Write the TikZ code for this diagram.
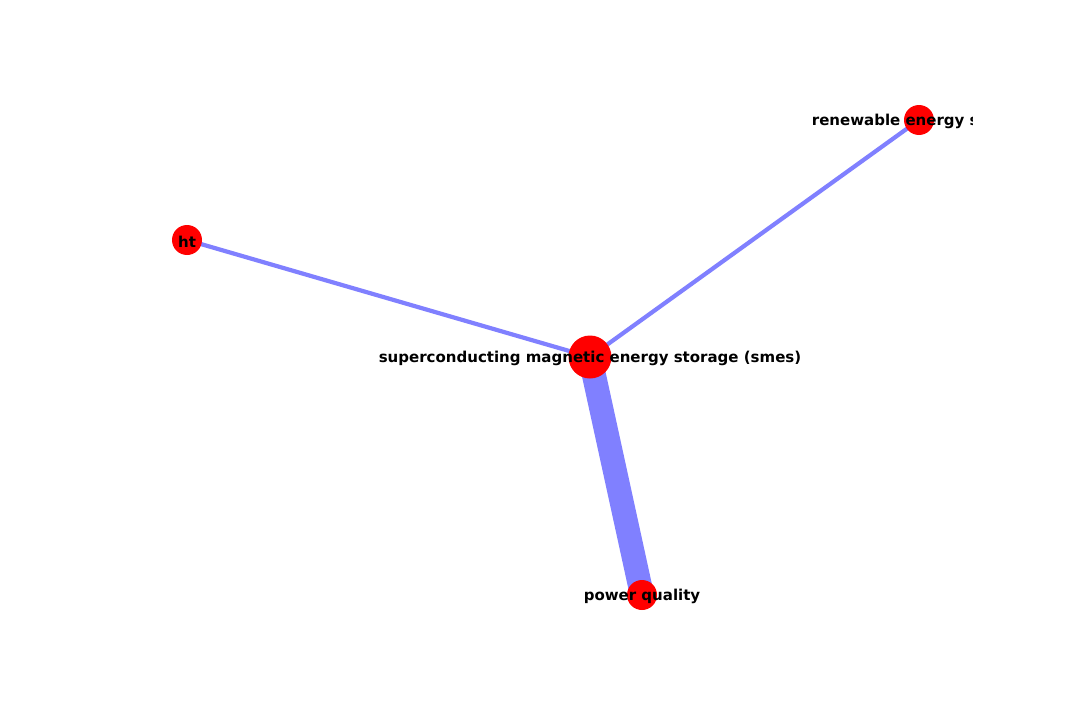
\documentclass[tikz,border=0pt]{standalone}
\usepackage{fontspec}
\setmainfont{DejaVu Sans}
\usetikzlibrary{backgrounds}
\begin{document}
\begin{tikzpicture}[x=1pt,y=-1pt,
  vert/.style={circle,fill=red,inner sep=0pt,minimum size=#1},
  edge/.style={draw=edgeblue,line width=#1},
  lbl/.style={font=\fontsize{15}{18}\selectfont\bfseries,inner sep=0pt,anchor=center}]
\definecolor{edgeblue}{RGB}{128,128,255}
\useasboundingbox (0,0) rectangle (1080,720);
\node[vert=43pt] (smes) at (590,357) {};
\node[vert=30pt] (ht) at (187,240) {};
\node[vert=30pt] (ren) at (919,120) {};
\node[vert=30pt] (pq) at (642,595) {};
\begin{pgfonlayer}{background}
\fill[white] (0,0) rectangle (1080,720);
\draw[edge=4.2pt] (smes.center) -- (ht.center);
\draw[edge=4.2pt] (smes.center) -- (ren.center);
\draw[edge=24pt] (smes.center) -- (pq.center);
\end{pgfonlayer}
\begin{scope}
\clip (108,86) rectangle (972,634);
\node[lbl] at ([yshift=-1.5pt]smes.center) {superconducting magnetic energy storage (smes)};
\node[lbl] at ([yshift=-1.5pt]ht.center) {ht};
\node[lbl] at ([yshift=-1.5pt]ren.center) {renewable energy source};
\node[lbl] at ([yshift=-1.5pt]pq.center) {power quality};
\end{scope}
\end{tikzpicture}
\end{document}
